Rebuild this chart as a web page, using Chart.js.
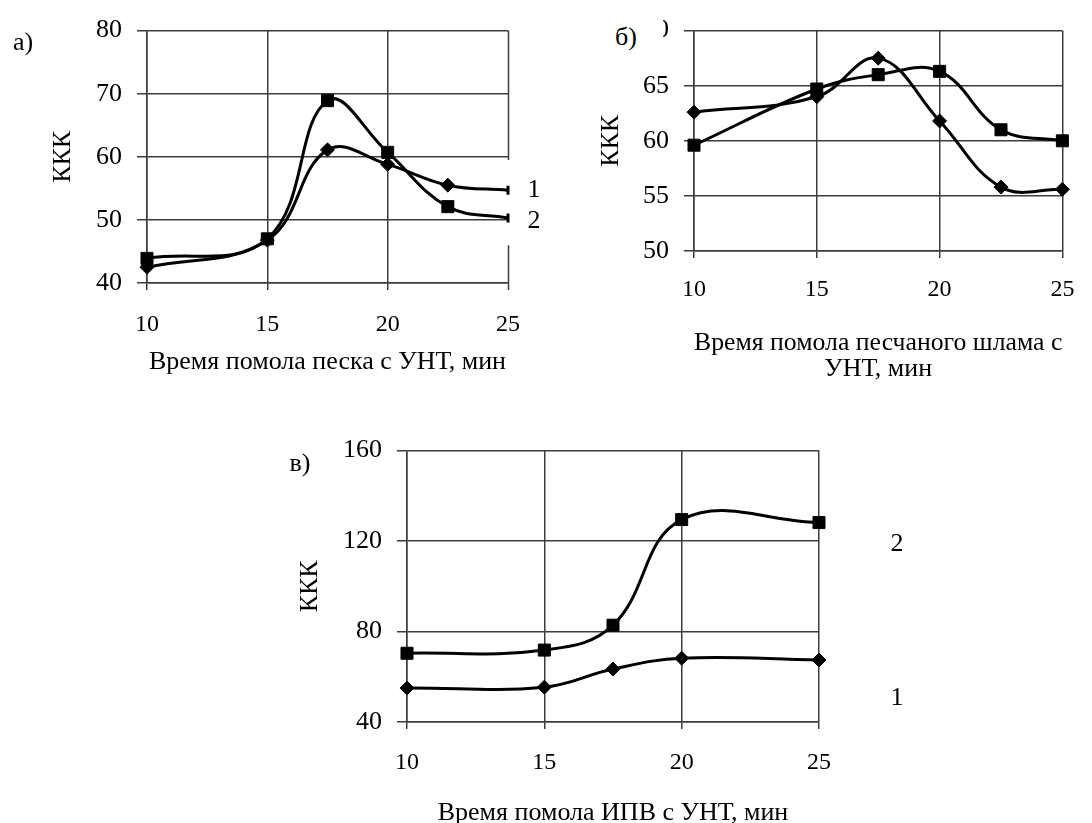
<!DOCTYPE html>
<html><head><meta charset="utf-8">
<script src="https://cdn.jsdelivr.net/npm/chart.js@4.4.1/dist/chart.umd.min.js"></script>
<style>
html,body{margin:0;padding:0;background:#fff;width:1092px;height:823px;overflow:hidden;position:relative;font-family:"Liberation Serif","Times New Roman",serif;}
.box{position:absolute;}
.lbl{position:absolute;font-size:26px;line-height:26px;color:#000;white-space:nowrap;transform:translate(-50%,-50%);z-index:3;}
.mask{position:absolute;background:#fff;z-index:2;}
</style></head><body>
<div class="box" style="left:0;top:0;"><canvas id="chA" width="560" height="400"></canvas></div>
<div class="box" style="left:560px;top:0;"><canvas id="chB" width="532" height="400"></canvas></div>
<div class="box" style="left:250px;top:420px;"><canvas id="chC" width="700" height="420"></canvas></div>
<div class="mask" style="left:600px;top:0;width:63px;height:75px;"></div>
<div class="lbl" style="left:23px;top:42px;">а)</div>
<div class="lbl" style="left:534px;top:189px;">1</div>
<div class="lbl" style="left:534px;top:220px;">2</div>
<div class="lbl" style="left:626px;top:37px;">б)</div>
<div class="lbl" style="left:300px;top:463px;">в)</div>
<div class="lbl" style="left:897px;top:543px;">2</div>
<div class="lbl" style="left:897px;top:697px;">1</div>
<script>
// ---- data ----
const timeA = [10, 15, 17.5, 20, 22.5, 25];
const kkkA1 = [42.5, 46.8, 61.1, 58.8, 55.5, 54.7];
const kkkA2 = [43.9, 47.0, 68.9, 60.7, 52.1, 50.3];

const timeB = [10, 15, 17.5, 20, 22.5, 25];
const kkkB1 = [62.6, 64.0, 67.5, 61.8, 55.8, 55.6];
const kkkB2 = [59.6, 64.7, 66.0, 66.3, 61.0, 60.0];

const timeC = [10, 15, 17.5, 20, 25];
const kkkC1 = [55.0, 55.4, 63.4, 68.2, 67.4];
const kkkC2 = [70.4, 71.8, 82.8, 129.5, 128.2];

const xTicks  = [10, 15, 20, 25];
const yTicksA = [40, 50, 60, 70, 80];
const yTicksB = [50, 55, 60, 65, 70];
const yTicksC = [40, 80, 120, 160];

const titleXA = 'Время помола песка с УНТ, мин';
const titleXB = ['Время помола песчаного шлама с', 'УНТ, мин'];
const titleXC = 'Время помола ИПВ с УНТ, мин';
const titleY  = 'ККК';

// ---- styling ----
const FF = '"Liberation Serif", "Times New Roman", serif';
const GRID = '#3c3c3c';
const INK = '#000';

function pts(xs, ys) { return xs.map((x, i) => ({x: x, y: ys[i]})); }

const rightBorderGap = {
  id: 'rightBorderGap',
  beforeDatasetsDraw(chart, args, opts) {
    if (!opts || !opts.gap) return;
    const {ctx, chartArea, scales} = chart;
    const px = Math.round(scales.x.getPixelForValue(scales.x.max)) + 0.5;
    ctx.save();
    ctx.strokeStyle = GRID; ctx.lineWidth = 1.5;
    ctx.beginPath();
    ctx.moveTo(px, chartArea.top);
    ctx.lineTo(px, scales.y.getPixelForValue(opts.gap[1]));
    ctx.moveTo(px, scales.y.getPixelForValue(opts.gap[0]));
    ctx.lineTo(px, chartArea.bottom + 7);
    ctx.stroke();
    ctx.restore();
  }
};

function series(xs, ys, kind, endDash) {
  const last = xs.length - 1;
  const isEnd = c => endDash && c.dataIndex === last;
  return {
    data: pts(xs, ys),
    borderColor: INK, backgroundColor: INK, borderWidth: 3,
    tension: 0.4, clip: false,
    pointStyle: c => isEnd(c) ? 'line' : (kind === 'sq' ? 'rect' : 'rectRot'),
    pointRotation: c => isEnd(c) ? 90 : 0,
    pointRadius: c => isEnd(c) ? 4.5 : (kind === 'sq' ? 8.5 : 7),
    pointBorderWidth: c => isEnd(c) ? 3 : 1,
    pointBackgroundColor: INK, pointBorderColor: INK
  };
}

function make(id, o) {
  const yT = o.yTicks;
  return new Chart(document.getElementById(id), {
    type: 'line',
    data: { datasets: o.datasets },
    plugins: [rightBorderGap],
    options: {
      responsive: false, animation: false, devicePixelRatio: 1,
      layout: { padding: { left: 0, top: o.padTop, right: o.padRight, bottom: 0 } },
      plugins: { legend: {display: false}, tooltip: {enabled: false}, rightBorderGap: {gap: o.gap || null} },
      scales: {
        x: {
          type: 'linear', min: xTicks[0], max: xTicks[xTicks.length - 1],
          afterBuildTicks: s => { s.ticks = xTicks.map(v => ({value: v})); },
          afterFit: s => { s.height = o.xH; },
          grid: {
            color: c => (o.gap && c.tick && c.tick.value === xTicks[xTicks.length - 1]) ? 'rgba(0,0,0,0)' : GRID,
            lineWidth: 1.5, tickLength: 7, drawTicks: true
          },
          border: {display: true, color: GRID, width: 1.5},
          ticks: {font: {family: FF, size: 24}, color: INK, padding: o.xPad, maxRotation: 0, autoSkip: false},
          title: {display: true, text: o.xTitle, color: INK,
                  font: {family: FF, size: 26, lineHeight: 1.0},
                  padding: {top: 0, bottom: o.xTitlePad}}
        },
        y: {
          type: 'linear', min: yT[0], max: yT[yT.length - 1],
          afterBuildTicks: s => { s.ticks = yT.map(v => ({value: v})); },
          afterFit: s => { s.width = o.yW; },
          grid: {color: GRID, lineWidth: 1.5, tickLength: 10, drawTicks: true},
          border: {display: true, color: GRID, width: 1.5},
          ticks: {font: {family: FF, size: 26}, color: INK, padding: 15, autoSkip: false},
          title: {display: true, text: titleY, color: INK,
                  font: {family: FF, size: 26, lineHeight: 1.0},
                  padding: {top: o.yTitlePad, bottom: 0}}
        }
      }
    }
  });
}

make('chA', {
  datasets: [series(timeA, kkkA1, 'dm', true), series(timeA, kkkA2, 'sq', true)],
  yTicks: yTicksA, padTop: 25, padRight: 52, yW: 147, xH: 117,
  xPad: 20.6, xTitle: titleXA, xTitlePad: 25, yTitlePad: 50, gap: [46, 59.5]
});
make('chB', {
  datasets: [series(timeB, kkkB1, 'dm', false), series(timeB, kkkB2, 'sq', false)],
  yTicks: yTicksB, padTop: 24, padRight: 17, yW: 134, xH: 149,
  xPad: 17.6, xTitle: titleXB, xTitlePad: 18, yTitlePad: 38
});
make('chC', {
  datasets: [series(timeC, kkkC1, 'dm', false), series(timeC, kkkC2, 'sq', false)],
  yTicks: yTicksC, padTop: 30, padRight: 131, yW: 157, xH: 118,
  xPad: 19.6, xTitle: titleXC, xTitlePad: 14, yTitlePad: 47
});
</script>
</body></html>
